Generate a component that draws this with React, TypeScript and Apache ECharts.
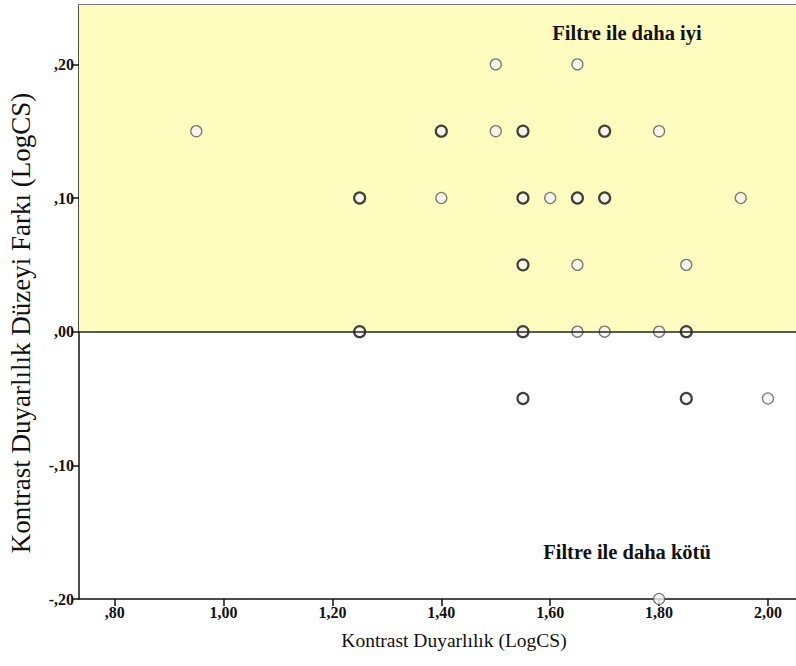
import React, { useEffect, useRef } from "react";
import * as echarts from "echarts";

// Data (x: Kontrast Duyarlılık, y: fark, n: number of overlapping cases)
const xVals = [
  1.5, 1.65,
  0.95, 1.4, 1.5, 1.55, 1.7, 1.8,
  1.25, 1.4, 1.55, 1.6, 1.65, 1.7, 1.95,
  1.55, 1.65, 1.85,
  1.25, 1.55, 1.65, 1.7, 1.8, 1.85,
  1.55, 1.85, 2.0,
  1.8,
];
const yVals = [
  0.2, 0.2,
  0.15, 0.15, 0.15, 0.15, 0.15, 0.15,
  0.1, 0.1, 0.1, 0.1, 0.1, 0.1, 0.1,
  0.05, 0.05, 0.05,
  0, 0, 0, 0, 0, 0,
  -0.05, -0.05, -0.05,
  -0.2,
];
const counts = [
  1, 1,
  1, 2, 1, 2, 2, 1,
  2, 1, 2, 1, 2, 2, 1,
  2, 1, 1,
  2, 2, 1, 1, 1, 2,
  2, 2, 1,
  1,
];
const xTicks = [0.8, 1.0, 1.2, 1.4, 1.6, 1.8, 2.0];
const yTicks = [-0.2, -0.1, 0, 0.1, 0.2];
const xTitle = "Kontrast Duyarlılık (LogCS)";
const yTitle = "Kontrast Duyarlılık Düzeyi Farkı (LogCS)";
const betterText = "Filtre ile daha iyi";
const worseText = "Filtre ile daha kötü";

const X_MIN = 0.7345;
const X_MAX = 2.0515;
const Y_MIN = -0.2;
const Y_MAX = 0.2444;

const FONT = "Liberation Serif, Times New Roman, serif";

const fmt = (v: number) => {
  let s = Math.abs(v).toFixed(2).replace(".", ",");
  if (s.startsWith("0")) s = s.slice(1);
  return (v < -1e-9 ? "-" : "") + s;
};

const titleStyle = (text: string, size: number, bold: boolean) => ({
  text,
  fontFamily: FONT,
  fontWeight: bold ? "bold" : "normal",
  fontSize: size,
  fill: "#111",
  textAlign: "center",
  textVerticalAlign: "middle",
});

export default function App() {
  const ref = useRef<HTMLDivElement>(null);
  useEffect(() => {
    document.body.style.margin = "0";
    if (!ref.current) return;
    const chart = echarts.init(ref.current, undefined, { renderer: "svg" });
    const points = xVals.map((x, i) => {
      const multi = counts[i] > 1;
      return {
        value: [x, yVals[i]],
        itemStyle: {
          color: "#f4f2f6",
          borderColor: multi ? "#111111" : "#5a5a5a",
          borderWidth: multi ? 2.2 : 1.3,
        },
      };
    });
    const labelStyle = {
      formatter: (v: number) => fmt(v),
      fontFamily: FONT,
      fontWeight: "bold",
      fontSize: 16,
      color: "#111",
      margin: 5,
    };
    chart.setOption({
      animation: false,
      backgroundColor: "#ffffff",
      textStyle: { fontFamily: FONT },
      grid: { left: 79, right: 0, top: 5, bottom: 67, containLabel: false },
      xAxis: [
        {
          type: "value",
          min: X_MIN,
          max: X_MAX,
          position: "bottom",
          splitLine: { show: false },
          axisLine: { show: true, onZero: false, lineStyle: { color: "#111", width: 1.5 } },
          axisTick: { show: true, customValues: xTicks, length: 7, lineStyle: { color: "#111", width: 1.5 } },
          axisLabel: { ...labelStyle, customValues: xTicks },
        },
        {
          type: "value",
          min: X_MIN,
          max: X_MAX,
          position: "top",
          splitLine: { show: false },
          axisLine: { show: true, onZero: false, lineStyle: { color: "#777", width: 2 } },
          axisTick: { show: false },
          axisLabel: { show: false },
        },
      ],
      yAxis: {
        type: "value",
        min: Y_MIN,
        max: Y_MAX,
        splitLine: { show: false },
        axisLine: { show: true, onZero: false, lineStyle: { color: "#111", width: 1.5 } },
        axisTick: { show: true, customValues: yTicks, length: 7, lineStyle: { color: "#111", width: 1.5 } },
        axisLabel: { ...labelStyle, customValues: yTicks },
      },
      series: [
        {
          type: "scatter",
          data: [],
          z: 1,
          silent: true,
          markArea: {
            silent: true,
            itemStyle: { color: "#fffcbf" },
            data: [[{ yAxis: 0 }, { yAxis: Y_MAX }]],
          },
          markLine: {
            silent: true,
            symbol: "none",
            label: { show: false },
            lineStyle: { color: "#222", width: 1.6, type: "solid" },
            data: [{ yAxis: 0 }],
          },
        },
        {
          type: "scatter",
          z: 3,
          symbol: "circle",
          symbolSize: 11,
          data: points,
        },
      ],
      graphic: [
        { type: "text", x: 627, y: 33, z: 100, style: titleStyle(betterText, 20.5, true) },
        { type: "text", x: 627, y: 552, z: 100, style: titleStyle(worseText, 20.5, true) },
        { type: "text", x: 454, y: 640, z: 100, style: titleStyle(xTitle, 19.5, false) },
        {
          type: "text",
          x: 21,
          y: 323,
          rotation: Math.PI / 2,
          z: 100,
          style: titleStyle(yTitle, 27, false),
        },
      ],
    });
    return () => chart.dispose();
  }, []);
  return <div ref={ref} style={{ width: 796, height: 666 }} />;
}
